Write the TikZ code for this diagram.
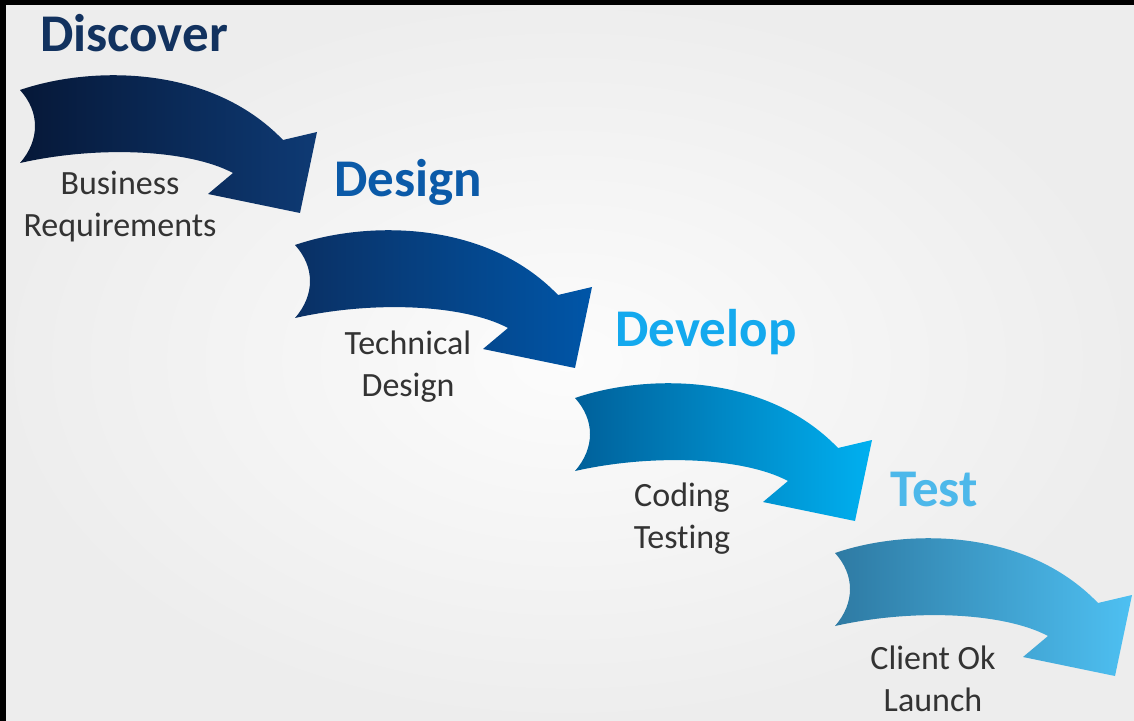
\documentclass[tikz,border=0pt]{standalone}
\usepackage{fontspec}
\setmainfont{Carlito}[Ligatures=NoCommon]
\usepackage{xcolor}
\usetikzlibrary{positioning}

\definecolor{discovercol}{HTML}{12325F}
\definecolor{designcol}{HTML}{0B5AA8}
\definecolor{developcol}{HTML}{14A9EE}
\definecolor{testcol}{HTML}{4DB8EA}
\definecolor{notecol}{HTML}{333333}

% one curved stage arrow, local pixel coordinates (y downwards)
\newcommand{\stagepath}{(0,0) .. controls (70,-24) and (190,-26) .. (263,50)
  -- (297,42) -- (280,123) -- (188,104) -- (213,83)
  .. controls (170,60) and (80,55) .. (0,73)
  .. controls (20,50) and (20,22) .. (0,0) -- cycle}

\begin{document}
\begin{tikzpicture}[
    x=0.5pt, y=-0.5pt,
    phase/.style={inner sep=0pt, font=\fontsize{26.5}{30}\selectfont\bfseries},
    note/.style={inner sep=0pt, align=center, text=notecol, font=\fontsize{17}{21}\selectfont}
]
\useasboundingbox (0,0) rectangle (1134,721);
\shade[inner color=white!70!gray!8, outer color=gray!14] (0,0) rectangle (1134,721);
\fill[black] (0,0) rectangle (1134,5);
\fill[black] (0,0) rectangle (6,721);

% stage arrows
\shade[shift={(20,90)}, left color={rgb,255:red,6;green,24;blue,56}, right color={rgb,255:red,14;green,58;blue,116}] \stagepath;
\shade[shift={(295,245)}, left color={rgb,255:red,10;green,48;blue,100}, right color={rgb,255:red,0;green,86;blue,168}] \stagepath;
\shade[shift={(575,398)}, left color={rgb,255:red,0;green,96;blue,154}, right color={rgb,255:red,0;green,176;blue,240}] \stagepath;
\shade[shift={(835,553)}, left color={rgb,255:red,46;green,122;blue,163}, right color={rgb,255:red,78;green,192;blue,242}] \stagepath;

% phase titles
\node[phase, text=discovercol] (discover) at (134,33) {Discover};
\node[phase, text=designcol] (design) at (408,182) {Design};
\node[phase, text=developcol] (develop) at (706,332) {Develop};
\node[phase, text=testcol] (test) at (934,490) {Test};

% notes below the arrows
\node[note] (busreq) at (120,207) {Business\\Requirements};
\node[note] (techdesign) at (408,367) {Technical\\Design};
\node[note] (codetest) at (682,519) {Coding\\Testing};
\node[note] (launch) at (933,679) {Client Ok\\Launch};
\end{tikzpicture}
\end{document}
